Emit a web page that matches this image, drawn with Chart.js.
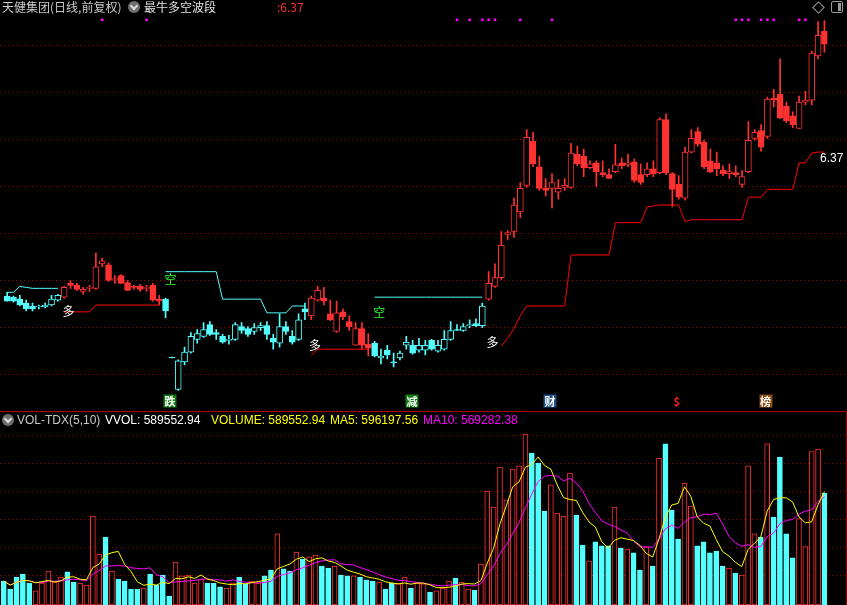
<!DOCTYPE html>
<html>
<head>
<meta charset="utf-8">
<script src="https://cdn.jsdelivr.net/npm/chart.js@4.4.1/dist/chart.umd.min.js"></script>
<style>
  body { margin: 0; background: #000; width: 847px; height: 605px; overflow: hidden; position: relative; }
  canvas { position: absolute; left: 0; }
  #kline { top: 0; }
  #vol { top: 412px; }
  .t { position: absolute; white-space: nowrap; font: 12px/14px "Noto Sans CJK SC", "Liberation Sans", sans-serif; }
  .v { position: absolute; white-space: nowrap; top: 413px; font: 12px/14px "Liberation Sans", Arial, sans-serif; }
  .knob { position: absolute; width: 12px; height: 12px; border-radius: 50%; background: #6e6e6e; }
  .knob::after { content: ""; position: absolute; left: 3px; top: 2px; width: 4px; height: 4px; border-right: 2px solid #ddd; border-bottom: 2px solid #ddd; transform: rotate(45deg); }
  #sep { position: absolute; left: 0; top: 411px; width: 847px; height: 1px; background: #b00000; }
  #edge { position: absolute; left: 846px; top: 412px; width: 1px; height: 193px; background: #900000; }
  #diamond { position: absolute; left: 814px; top: 3px; width: 7px; height: 7px; border: 1px solid #9a9a9a; transform: rotate(45deg); }
  #panelbtn { position: absolute; left: 831px; top: 1px; width: 10px; height: 10px; border: 1px solid #9a9a9a; border-radius: 2px; }
  #panelbtn::after { content: ""; position: absolute; left: 6px; top: 1px; width: 3px; height: 8px; background: #9a9a9a; }
  #marks span { position: absolute; white-space: nowrap; transform: translate(-50%, -50%); font: 12px/13px "Noto Sans CJK SC", sans-serif; }
  #marks .duo { color: #ffffff; }
  #marks .kong { color: #33ff33; }
  #marks .sig { width: 13px; height: 13px; text-align: center; color: #fff; font-size: 11px; font-weight: bold; }
  #marks .last { transform: translate(0, -50%); color: #fff; font: 12px/14px "Liberation Sans", sans-serif; }
</style>
</head>
<body>
<canvas id="kline" width="847" height="411"></canvas>
<canvas id="vol" width="847" height="193"></canvas>
<div id="sep"></div>
<div id="edge"></div>
<div id="marks"></div>

<div class="t" style="left:2px;top:0;color:#c8c8c8">天健集团(日线,前复权)</div>
<div class="knob" style="left:128px;top:1px"></div>
<div class="t" style="left:144px;top:0;color:#e0e0e0">最牛多空波段</div>
<div class="t" style="left:277px;top:0;color:#ff3232">:6.37</div>
<div id="diamond"></div>
<div id="panelbtn"></div>

<div class="knob" style="left:2px;top:414px"></div>
<div class="v" style="left:17px;color:#c8c8c8">VOL-TDX(5,10)</div>
<div class="v" style="left:105px;color:#ffffff">VVOL: 589552.94</div>
<div class="v" style="left:211px;color:#ffff00">VOLUME: 589552.94</div>
<div class="v" style="left:330px;color:#ffff00">MA5: 596197.56</div>
<div class="v" style="left:423px;color:#ff00ff">MA10: 569282.38</div>

<script>
// daily bars, oldest first
const days = Array.from({ length: 130 }, (_, i) => 'D' + (i + 1));

const open = [
  4.96, 4.95, 4.93, 4.89, 4.86, 4.85, 4.85, 4.87, 4.92, 4.95,
  5.09, 5.07, 5.01, 5.04, 5.04, 5.29, 5.28, 5.13, 5.17, 5.10,
  5.06, 5.06, 5.04, 5.07, 4.93, 4.93, 4.34, 4.01, 4.29, 4.39,
  4.52, 4.55, 4.67, 4.59, 4.55, 4.51, 4.52, 4.65, 4.63, 4.60,
  4.64, 4.66, 4.53, 4.48, 4.65, 4.55, 4.52, 4.83, 4.76, 4.92,
  4.94, 4.78, 4.60, 4.80, 4.70, 4.46, 4.63, 4.47, 4.48, 4.33,
  4.41, 4.29, 4.33, 4.46, 4.46, 4.41, 4.41, 4.51, 4.40, 4.42,
  4.52, 4.62, 4.61, 4.66, 4.68, 4.66, 4.93, 5.06, 5.15, 5.59,
  5.62, 5.82, 6.09, 6.54, 6.28, 6.06, 6.06, 6.02, 6.07, 6.07,
  6.41, 6.39, 6.27, 6.32, 6.22, 6.20, 6.23, 6.32, 6.30, 6.33,
  6.20, 6.20, 6.26, 6.22, 6.76, 6.21, 6.10, 5.96, 6.43, 6.64,
  6.53, 6.34, 6.32, 6.25, 6.21, 6.22, 6.10, 6.23, 6.57, 6.65,
  6.59, 6.98, 7.02, 6.90, 6.80, 6.67, 6.94, 6.96, 7.41, 7.66
];
const high = [
  5.00, 4.96, 4.97, 4.92, 4.89, 4.87, 4.89, 4.97, 4.98, 5.06,
  5.12, 5.09, 5.05, 5.07, 5.40, 5.35, 5.30, 5.17, 5.18, 5.12,
  5.07, 5.08, 5.07, 5.09, 4.97, 4.94, 4.34, 4.31, 4.44, 4.59,
  4.62, 4.69, 4.70, 4.62, 4.57, 4.56, 4.69, 4.69, 4.65, 4.68,
  4.69, 4.70, 4.57, 4.78, 4.70, 4.61, 4.78, 4.89, 4.96, 5.06,
  5.05, 4.92, 4.91, 4.83, 4.76, 4.69, 4.69, 4.58, 4.50, 4.42,
  4.46, 4.38, 4.40, 4.55, 4.51, 4.53, 4.51, 4.52, 4.51, 4.61,
  4.70, 4.67, 4.68, 4.72, 4.73, 4.89, 5.21, 5.29, 5.62, 5.63,
  5.96, 6.12, 6.66, 6.63, 6.39, 6.16, 6.21, 6.15, 6.16, 6.52,
  6.49, 6.46, 6.34, 6.34, 6.34, 6.26, 6.51, 6.37, 6.41, 6.36,
  6.31, 6.32, 6.34, 6.78, 6.82, 6.22, 6.19, 6.48, 6.66, 6.68,
  6.55, 6.46, 6.43, 6.29, 6.31, 6.29, 6.24, 6.74, 6.66, 6.71,
  6.99, 7.07, 7.38, 6.94, 6.84, 7.00, 7.05, 7.46, 7.76, 7.77
];
const low = [
  4.91, 4.90, 4.86, 4.81, 4.81, 4.83, 4.84, 4.86, 4.91, 4.94,
  5.04, 5.02, 4.98, 5.01, 5.03, 5.26, 5.11, 5.09, 5.09, 5.02,
  5.03, 5.01, 5.01, 4.91, 4.87, 4.74, 4.33, 4.00, 4.26, 4.38,
  4.48, 4.54, 4.56, 4.52, 4.48, 4.47, 4.51, 4.58, 4.55, 4.57,
  4.61, 4.52, 4.42, 4.44, 4.57, 4.47, 4.51, 4.72, 4.72, 4.91,
  4.87, 4.71, 4.59, 4.72, 4.61, 4.46, 4.42, 4.35, 4.34, 4.27,
  4.32, 4.24, 4.31, 4.42, 4.37, 4.39, 4.36, 4.41, 4.39, 4.41,
  4.51, 4.61, 4.60, 4.64, 4.65, 4.64, 4.92, 5.05, 5.13, 5.54,
  5.56, 5.76, 6.07, 6.28, 6.04, 5.98, 5.86, 5.95, 6.04, 6.06,
  6.29, 6.18, 6.26, 6.08, 6.18, 6.16, 6.22, 6.26, 6.28, 6.12,
  6.10, 6.18, 6.18, 6.21, 6.20, 5.87, 5.95, 5.94, 6.42, 6.49,
  6.26, 6.22, 6.19, 6.19, 6.16, 6.18, 6.07, 6.22, 6.55, 6.44,
  6.57, 6.89, 6.77, 6.73, 6.68, 6.67, 6.91, 6.91, 7.38, 7.45
];
const close = [
  4.91, 4.91, 4.87, 4.83, 4.83, 4.86, 4.87, 4.93, 4.97, 5.05,
  5.07, 5.03, 5.03, 5.05, 5.26, 5.32, 5.12, 5.14, 5.09, 5.02,
  5.05, 5.03, 5.05, 4.92, 4.91, 4.81, 4.33, 4.30, 4.39, 4.55,
  4.58, 4.62, 4.57, 4.57, 4.49, 4.52, 4.67, 4.61, 4.57, 4.64,
  4.66, 4.57, 4.49, 4.65, 4.60, 4.49, 4.72, 4.80, 4.94, 5.02,
  4.91, 4.72, 4.79, 4.75, 4.65, 4.63, 4.46, 4.43, 4.35, 4.35,
  4.36, 4.28, 4.38, 4.49, 4.38, 4.46, 4.46, 4.42, 4.46, 4.52,
  4.61, 4.61, 4.65, 4.67, 4.66, 4.86, 5.09, 5.15, 5.48, 5.61,
  5.89, 6.06, 6.58, 6.31, 6.06, 6.04, 6.12, 6.06, 6.09, 6.42,
  6.31, 6.27, 6.31, 6.23, 6.20, 6.16, 6.30, 6.29, 6.32, 6.14,
  6.12, 6.26, 6.21, 6.76, 6.22, 6.05, 5.97, 6.43, 6.57, 6.51,
  6.28, 6.23, 6.26, 6.21, 6.23, 6.20, 6.18, 6.55, 6.63, 6.48,
  6.97, 6.96, 6.78, 6.75, 6.71, 6.94, 6.96, 7.44, 7.62, 7.53
];
const volume = [
  126000, 84000, 147000, 163000, 116000, 74000, 116000, 179000, 121000, 147000,
  174000, 121000, 116000, 105000, 468000, 268000, 358000, 179000, 137000, 126000,
  84000, 84000, 89000, 163000, 105000, 158000, 47000, 226000, 153000, 158000,
  116000, 137000, 116000, 116000, 95000, 89000, 116000, 147000, 111000, 126000,
  116000, 153000, 184000, 374000, 190000, 179000, 279000, 242000, 253000, 263000,
  205000, 195000, 205000, 158000, 153000, 153000, 147000, 132000, 126000, 121000,
  84000, 116000, 111000, 147000, 89000, 116000, 111000, 68000, 74000, 89000,
  126000, 142000, 121000, 84000, 79000, 216000, 600000, 516000, 726000, 553000,
  716000, 732000, 900000, 800000, 747000, 495000, 632000, 484000, 468000, 695000,
  474000, 316000, 232000, 332000, 311000, 311000, 516000, 300000, 295000, 274000,
  184000, 305000, 205000, 774000, 848000, 500000, 347000, 642000, 521000, 311000,
  332000, 274000, 284000, 205000, 195000, 168000, 158000, 732000, 374000, 358000,
  848000, 463000, 779000, 374000, 247836, 455000, 307000, 808000, 821435, 589552.94
];

// bull (red) phases of the 最牛多空波段 indicator, as [first bar, last bar]
const bullSpans = [[9, 24], [48, 57], [76, 129]];

// red support steps (多) and cyan resistance steps (空)
const supportSegs = [
  { from: 9, values: [4.80, 4.80, 4.80, 4.80, 4.80, 4.87, 4.87, 4.87, 4.87, 4.87, 4.87, 4.87, 4.87, 4.87, 4.87, 4.87] },
  { from: 48, values: [4.36, 4.42, 4.42, 4.42, 4.42, 4.42, 4.42, 4.42, 4.42, 4.42] },
  { from: 78, values: [4.45, 4.53, 4.63, 4.76, 4.86, 4.86, 4.86, 4.86, 4.86, 4.86, 4.86,
      5.38, 5.38, 5.38, 5.38, 5.38, 5.38, 5.38, 5.71, 5.71, 5.71, 5.71, 5.71, 5.87, 5.88,
      5.89, 5.89, 5.89, 5.89, 5.72, 5.74, 5.74, 5.74, 5.74, 5.74, 5.74, 5.74, 5.74, 5.74,
      5.97, 5.97, 5.97, 6.05, 6.05, 6.05, 6.05, 6.05, 6.32, 6.32, 6.42, 6.43, 6.43] }
];
const resistSegs = [
  { from: 0, values: [5.00, 5.00, 5.06, 5.05, 5.04, 5.04, 5.04, 5.04, 5.04] },
  { from: 25, values: [5.21, 5.21, 5.21, 5.21, 5.21, 5.21, 5.21, 5.21, 5.21, 4.93, 4.93, 4.93,
      4.93, 4.93, 4.93, 4.93, 4.79, 4.79, 4.79, 4.79, 4.86, 4.86, 4.86] },
  { from: 58, values: [4.95, 4.95, 4.95, 4.95, 4.95, 4.95, 4.95, 4.95, 4.95, 4.95, 4.95, 4.95,
      4.95, 4.95, 4.95, 4.95, 4.95, 4.95] }
];

// magenta signal dots along the top edge
const dotBars = [15, 22, 71, 73, 75, 76, 77, 81, 86, 115, 116, 117, 119, 120, 121, 125, 126];
const dotLevel = 7.78;

// text marks: bar position and price
const duoAt = [9.7, 48.6, 76.6];
const duoPrice = [4.815, 4.47, 4.505];
const kongAt = [25.8, 58.75];
const kongPrice = [5.15, 4.81];
const signalText = ['跌', '减', '财', '$', '榜'];
const signalAt = [25.7, 63.9, 85.7, 105.7, 119.7];
const signalBg = ['#127a12', '#127a12', '#1d4f86', 'transparent', '#8a4a14'];
const signalLevel = 3.89;
const lastValueText = '6.37';
const lastValuePrice = 6.37;

// horizontal dotted grid
const priceGrid = [4.17, 4.649, 5.128, 5.607, 6.086, 6.565, 7.044, 7.523];
const volGrid = [159500, 306900, 454300, 601700, 749100, 896500];

const RED = '#ff3232';
const CYAN = '#54ffff';

function segLine(segs) {
  const out = days.map(() => null);
  segs.forEach(s => s.values.forEach((v, k) => { out[s.from + k] = v; }));
  return out;
}
function movingAverage(values, n) {
  return values.map((v, i) => {
    const win = values.slice(Math.max(0, i - n + 1), i + 1);
    return win.reduce((a, b) => a + b, 0) / win.length;
  });
}
const isBull = i => bullSpans.some(([a, b]) => i >= a && i <= b);
const isUp = i => close[i] >= open[i];

const candleColor = days.map((d, i) => isBull(i) ? RED : CYAN);
const bodyFill = days.map((d, i) => isUp(i) ? '#000' : candleColor[i]);
const volColor = days.map((d, i) => isUp(i) ? RED : CYAN);
const volFill = days.map((d, i) => isUp(i) ? '#000' : CYAN);
const dots = days.map((d, i) => dotBars.includes(i) ? dotLevel : null);

// dotted dark-red grid drawn at the y scale's own pixel positions
const dottedGrid = {
  id: 'dottedGrid',
  beforeDatasetsDraw(chart, args, opts) {
    const { ctx, scales: { y } } = chart;
    ctx.save();
    ctx.strokeStyle = '#a00000';
    ctx.lineWidth = 1;
    ctx.setLineDash([1, 3]);
    opts.values.forEach(v => {
      const py = Math.round(y.getPixelForValue(v)) + 0.5;
      ctx.beginPath();
      ctx.moveTo(0, py);
      ctx.lineTo(chart.width, py);
      ctx.stroke();
    });
    ctx.restore();
  }
};

const markPlugin = {
  id: 'marks',
  afterRender(chart) {
    const layer = document.getElementById('marks');
    layer.innerHTML = '';
    const xs = chart.scales.x, ys = chart.scales.y;
    const step = xs.getPixelForValue(1) - xs.getPixelForValue(0);
    const px = pos => xs.getPixelForValue(0) + pos * step;
    const put = (text, pos, price, cls, bg) => {
      const el = document.createElement('span');
      el.className = cls;
      el.textContent = text;
      el.style.left = px(pos) + 'px';
      el.style.top = ys.getPixelForValue(price) + 'px';
      if (bg) el.style.background = bg;
      layer.appendChild(el);
      return el;
    };
    duoAt.forEach((p, k) => put('多', p, duoPrice[k], 'duo'));
    kongAt.forEach((p, k) => put('空', p, kongPrice[k], 'kong'));
    signalText.forEach((t, k) => {
      const el = put(t, signalAt[k], signalLevel, 'sig', signalBg[k]);
      if (t === '$') el.style.color = '#ff2020';
    });
    put(lastValueText, 128.3, lastValuePrice, 'last');
  }
};

const hiddenX = { display: false, offset: true };

new Chart(document.getElementById('kline'), {
  type: 'bar',
  data: {
    labels: days,
    datasets: [
      { type: 'line', data: segLine(supportSegs), borderColor: '#ff0000', borderWidth: 1, pointRadius: 0, spanGaps: false, order: 0 },
      { type: 'line', data: segLine(resistSegs), borderColor: CYAN, borderWidth: 1, pointRadius: 0, spanGaps: false, order: 0 },
      { type: 'line', data: dots, showLine: false, pointStyle: 'rect', pointRadius: 1.8, pointBorderWidth: 0, pointBackgroundColor: '#ff00ff', order: 0 },
      {
        data: days.map((d, i) => [open[i], close[i]]),
        backgroundColor: bodyFill, borderColor: candleColor, borderWidth: 1, borderSkipped: false,
        barThickness: 6, minBarLength: 1, grouped: false, order: 1
      },
      {
        data: days.map((d, i) => [low[i], high[i]]),
        backgroundColor: candleColor, borderWidth: 0, barThickness: 1, grouped: false, order: 2
      }
    ]
  },
  options: {
    responsive: false, animation: false, events: [],
    layout: { padding: { left: 0.6, right: 19.4, top: 0, bottom: 0 } },
    plugins: { legend: { display: false }, tooltip: { enabled: false }, dottedGrid: { values: priceGrid } },
    scales: { x: hiddenX, y: { display: false, min: 3.83, max: 7.94 } }
  },
  plugins: [dottedGrid, markPlugin]
});

new Chart(document.getElementById('vol'), {
  type: 'bar',
  data: {
    labels: days,
    datasets: [
      { type: 'line', data: movingAverage(volume, 5), borderColor: '#ffff00', borderWidth: 1, pointRadius: 0, order: 0 },
      { type: 'line', data: movingAverage(volume, 10), borderColor: '#ff00ff', borderWidth: 1, pointRadius: 0, order: 0 },
      {
        data: volume, backgroundColor: volFill, borderColor: volColor, borderWidth: 1,
        borderSkipped: false, barThickness: 5, order: 1
      }
    ]
  },
  options: {
    responsive: false, animation: false, events: [],
    layout: { padding: { left: 0.6, right: 19.4, top: 0, bottom: 0 } },
    plugins: { legend: { display: false }, tooltip: { enabled: false }, dottedGrid: { values: volGrid } },
    scales: { x: hiddenX, y: { display: false, min: 0, max: 1016000 } }
  },
  plugins: [dottedGrid]
});
</script>
</body>
</html>
